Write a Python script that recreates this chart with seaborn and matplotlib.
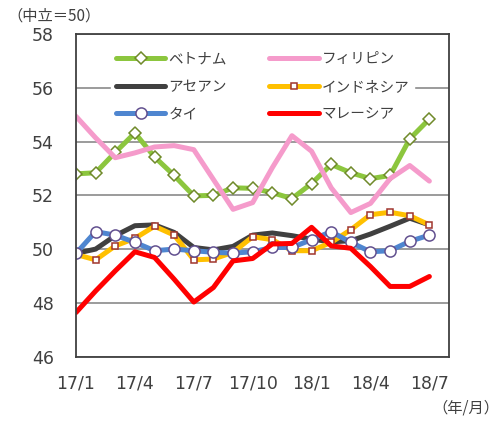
import numpy as np
import pandas as pd
import matplotlib
matplotlib.use("Agg")
import matplotlib.pyplot as plt
import seaborn as sns

# Data
months = ["17/1", "17/2", "17/3", "17/4", "17/5", "17/6", "17/7", "17/8", "17/9", "17/10",
          "17/11", "17/12", "18/1", "18/2", "18/3", "18/4", "18/5", "18/6", "18/7"]
tick_labels = ["17/1", "17/4", "17/7", "17/10", "18/1", "18/4", "18/7"]

vietnam = [52.80, 52.84, 53.60, 54.32, 53.43, 52.74, 51.98, 52.00, 52.28, 52.26,
           52.10, 51.88, 52.44, 53.15, 52.84, 52.62, 52.74, 54.10, 54.84]
philippines = [54.94, 54.14, 53.40, 53.58, 53.80, 53.85, 53.70, 52.59, 51.48, 51.73,
               53.03, 54.22, 53.64, 52.28, 51.36, 51.70, 52.62, 53.11, 52.53]
asean = [49.84, 50.00, 50.50, 50.87, 50.90, 50.62, 50.06, 49.97, 50.10, 50.52,
         50.60, 50.50, 50.37, 50.27, 50.31, 50.56, 50.85, 51.15, 50.90]
indonesia = [49.80, 49.60, 50.12, 50.40, 50.85, 50.52, 49.60, 49.63, 49.88, 50.46,
             50.35, 49.94, 49.94, 50.25, 50.72, 51.28, 51.37, 51.24, 50.90]
thailand = [49.84, 50.65, 50.52, 50.25, 49.94, 50.00, 49.94, 49.88, 49.85, 49.90,
            50.06, 50.06, 50.35, 50.65, 50.25, 49.90, 49.94, 50.29, 50.52]
malaysia = [47.64, 48.44, 49.19, 49.90, 49.69, 48.88, 48.03, 48.57, 49.56, 49.65,
            50.19, 50.21, 50.81, 50.12, 50.03, 49.35, 48.61, 48.61, 48.98]

sns.set_style("white")
plt.rcParams['font.family'] = ['Noto Sans CJK JP', 'DejaVu Sans']

df = pd.DataFrame({"idx": np.arange(len(months)), "month": months,
                   "ベトナム": vietnam, "フィリピン": philippines, "アセアン": asean,
                   "インドネシア": indonesia, "タイ": thailand, "マレーシア": malaysia})

# name, line colour, marker, marker edge colour, marker size (drawn in this order)
styles = [
    ("ベトナム", "#8CC63E", "D", "#6F8A2A", 6),
    ("フィリピン", "#F59BCB", None, None, 0),
    ("アセアン", "#404040", None, None, 0),
    ("インドネシア", "#FFC000", "s", "#A0352E", 5),
    ("タイ", "#4F86D0", "o", "#62508F", 8),
    ("マレーシア", "#FF0000", None, None, 0),
]

fig = plt.figure(figsize=(5.0, 4.21), dpi=100)
ax = fig.add_axes([0.152, 0.153, 0.746, 0.766])

for name, color, marker, mec, ms in styles:
    sns.lineplot(data=df, x="idx", y=name, ax=ax, color=color, linewidth=3.6,
                 marker=marker, markersize=ms, markerfacecolor="white",
                 markeredgecolor=mec, markeredgewidth=1.1, label=name)

ax.set_xlim(0, 19)
ax.set_ylim(46, 58)
ax.set_xticks(np.arange(0, 19, 3))
ax.set_xticklabels(tick_labels)
ax.set_yticks(np.arange(46, 59, 2))
ax.set_xlabel("")
ax.set_ylabel("")
ax.yaxis.grid(True, color="#808080", linewidth=1.1)
ax.set_axisbelow(True)
ax.tick_params(axis="x", direction="in", length=5, width=1, color="#808080",
               pad=13, labelsize=12.5, labelcolor="#404040")
ax.tick_params(axis="y", length=0, pad=16, labelsize=12.5, labelcolor="#404040")
for lab in ax.get_xticklabels() + ax.get_yticklabels():
    lab.set_family("DejaVu Sans")
for s in ax.spines.values():
    s.set_color("#404040")
    s.set_linewidth(1.3)

h, l = ax.get_legend_handles_labels()
lookup = dict(zip(l, h))
order = ["ベトナム", "アセアン", "タイ", "フィリピン", "インドネシア", "マレーシア"]
leg = ax.legend([lookup[o] for o in order], order, ncol=2, loc="upper center",
                bbox_to_anchor=(0.5, 0.98), fontsize=10.5, handlelength=3.4,
                columnspacing=2.9, labelspacing=0.92, handletextpad=0.2,
                numpoints=1, frameon=True, facecolor="white", edgecolor="white",
                framealpha=1, fancybox=False, borderpad=0.3)
for t in leg.get_texts():
    t.set_color("#404040")

fig.text(0.014, 0.963, "（中立＝50）", fontsize=11, color="#404040", va="center")
fig.text(0.998, 0.03, "（年/月）", fontsize=11, color="#404040", ha="right", va="center")

plt.savefig("out.png", dpi=100)
